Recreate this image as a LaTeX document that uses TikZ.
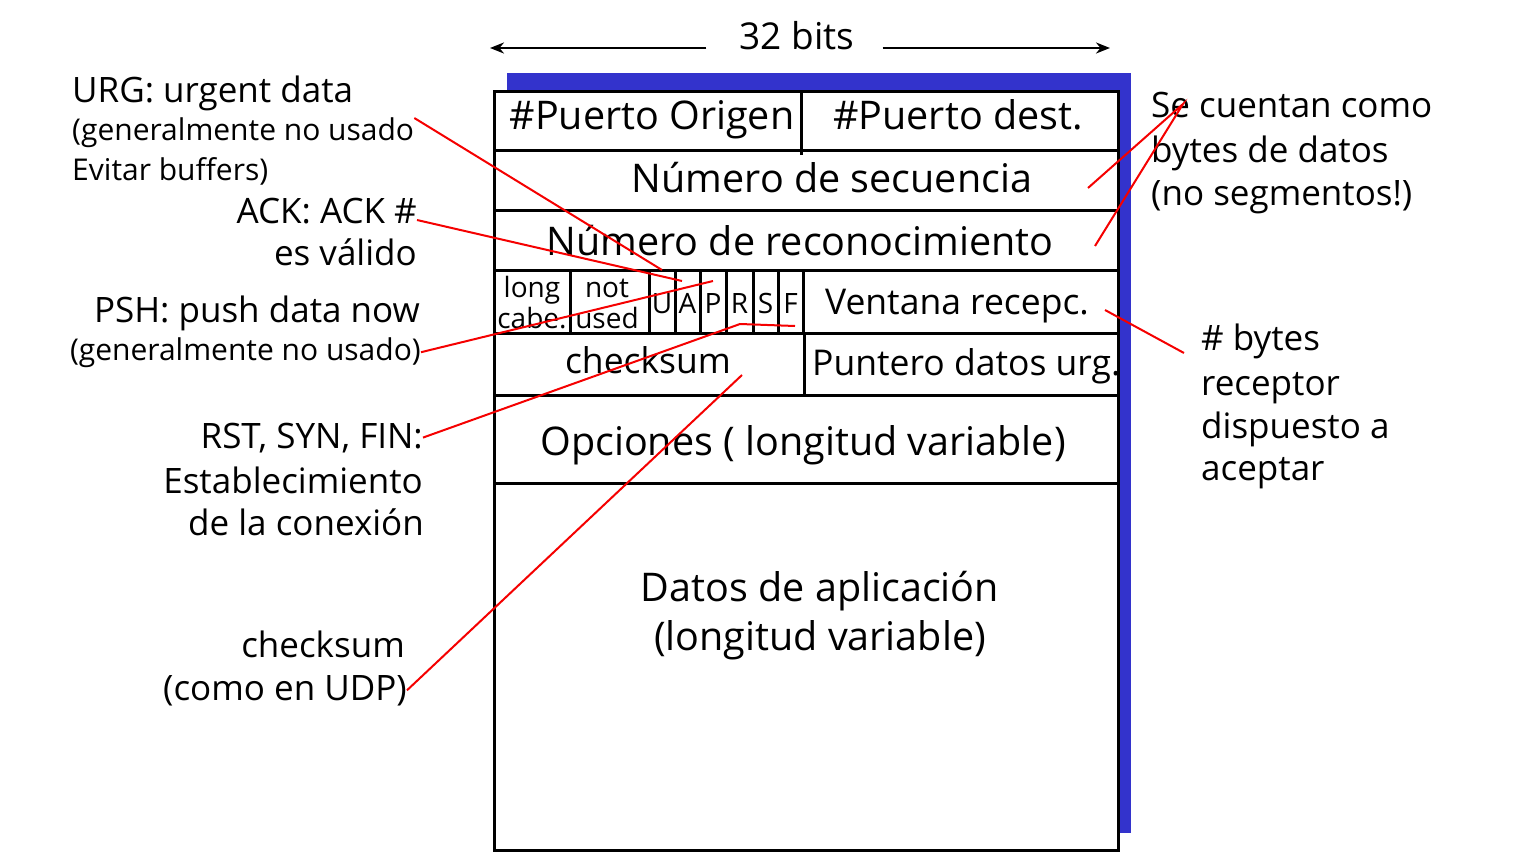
\documentclass[tikz,border=0pt]{standalone}
\usepackage{fontspec}
\setmainfont{Open Sans}
\usetikzlibrary{arrows.meta,calc}
\definecolor{shadowblue}{RGB}{51,51,204}
\definecolor{ptrred}{RGB}{245,0,0}

\begin{document}
\begin{tikzpicture}[x=1pt,y=-1pt,
    field/.style={font=\fontsize{39.5}{46}\selectfont, inner sep=0pt},
    fieldsm/.style={font=\fontsize{35.5}{42}\selectfont, inner sep=0pt},
    flag/.style={font=\fontsize{28}{30}\selectfont, inner sep=0pt},
    note/.style={font=\fontsize{35}{42}\selectfont, inner sep=0pt},
    notesm/.style={font=\fontsize{30}{36}\selectfont, inner sep=0pt},
    frame/.style={line width=3pt},
    pointer/.style={draw=ptrred, line width=2pt},
    span/.style={line width=2.5pt, -{Stealth[length=14pt,width=11pt]}}]
\useasboundingbox (0,0) rectangle (1526,856);

% width arrows
\node[field, font=\fontsize{37}{44}\selectfont, anchor=base] (bits) at (797,50) {32 bits};
\coordinate (wleft) at (490,48);
\coordinate (wright) at (1110,48);
\draw[span] ([xshift=-33pt]bits.west |- wleft) -- (wleft);
\draw[span] ([xshift=28pt]bits.east |- wright) -- (wright);

% segment frame and shadow
\fill[shadowblue] (507,73) rectangle (1131,833);
\filldraw[fill=white, frame] (494,92) rectangle (1118,850);
\foreach \y in {151,210,270,333,395,483}
  \draw[frame] (494,\y) -- (1118,\y);
\draw[frame] (801,92) -- (801,155);
\foreach \x in {570,649,675,700,726,753,778,803}
  \draw[frame] (\x,270) -- (\x,333);
\draw[frame] (804,333) -- (804,395);

% header fields
\node[field, anchor=base] (srcport) at (652,130) {\#Puerto Origen};
\node[field, anchor=base] (dstport) at (958,130) {\#Puerto dest.};
\node[field, anchor=base] (seqnum) at (832,193) {Número de secuencia};
\node[field, anchor=base] (acknum) at (800,255) {Número de reconocimiento};
\node[flag, anchor=base] (hlen) at (532,297) {long};
\node[flag, anchor=base] (hlenb) at (532,328) {cabe.};
\node[flag, anchor=base] (unused) at (607,297) {not};
\node[flag, anchor=base] (unusedb) at (607,328) {used};
\node[flag, anchor=base] (fU) at (662,313) {U};
\node[flag, anchor=base] (fA) at (687.5,313) {A};
\node[flag, anchor=base] (fP) at (713,313) {P};
\node[flag, anchor=base] (fR) at (739.5,313) {R};
\node[flag, anchor=base] (fS) at (765.5,313) {S};
\node[flag, anchor=base] (fF) at (790.5,313) {F};
\node[fieldsm, anchor=base] (rwnd) at (957,314) {Ventana recepc.};
\node[fieldsm, anchor=base] (csum) at (648,373) {checksum};
\node[fieldsm, anchor=base west] (urgptr) at (812,375) {Puntero datos urg.};
\node[field, anchor=base] (opts) at (803,455) {Opciones ( longitud variable)};
\node[field, anchor=base] (data) at (820,601) {Datos de aplicación};
\node[field, anchor=base] (datab) at (820,650) {(longitud variable)};

% notes on the left
\node[note, anchor=base west] (urga) at (72,103) {URG: urgent data};
\node[notesm, anchor=base west] (urgb) at (72,141) {(generalmente no usado};
\node[notesm, anchor=base west] (urgc) at (72,180) {Evitar buffers)};
\node[note, anchor=base east] (acka) at (417,223) {ACK: ACK \#};
\node[note, anchor=base east] (ackb) at (417,265) {es válido};
\node[note, anchor=base east] (psha) at (420,322) {PSH: push data now};
\node[notesm, anchor=base east] (pshb) at (421,360) {(generalmente no usado)};
\node[note, anchor=base east] (rsta) at (423,448) {RST, SYN, FIN:};
\node[note, anchor=base east] (rstb) at (423,493) {Establecimiento};
\node[note, anchor=base east] (rstc) at (424,535) {de la conexión};
\node[note, anchor=base east] (csa) at (405,657) {checksum};
\node[note, anchor=base east] (csb) at (407,700) {(como en UDP)};

% notes on the right
\node[note, anchor=base west] (sea) at (1151,118) {Se cuentan como};
\node[note, anchor=base west] (seb) at (1151,162) {bytes de datos};
\node[note, anchor=base west] (sec) at (1151,205) {(no segmentos!)};
\node[note, anchor=base west] (wina) at (1201,350) {\# bytes};
\node[note, anchor=base west] (winb) at (1201,395) {receptor};
\node[note, anchor=base west] (winc) at (1201,438) {dispuesto a};
\node[note, anchor=base west] (wind) at (1201,480) {aceptar};

% pointers
\coordinate (toU) at (662,270);
\coordinate (toA) at (682,281);
\coordinate (toP) at (713,281);
\coordinate (bendR) at (740,324);
\coordinate (toF) at (795,326);
\coordinate (toCsum) at (742,375);
\coordinate (toSeq) at (1088,188);
\coordinate (toAck) at (1095,246);
\coordinate (fromWin) at (1105,310);
\coordinate (toWin) at (1184,353);
\draw[pointer] (urgb.north east) -- (toU);
\draw[pointer] ([yshift=3pt]acka.base east) -- (toA);
\draw[pointer] (pshb.east) -- (toP);
\draw[pointer] (rsta.east) -- (bendR) -- (toF);
\draw[pointer] (csb.east) -- (toCsum);
\draw[pointer] (toSeq) -- ($(sea.base west)+(32,-14)$) -- (toAck);
\draw[pointer] (fromWin) -- (toWin);
\end{tikzpicture}
\end{document}
